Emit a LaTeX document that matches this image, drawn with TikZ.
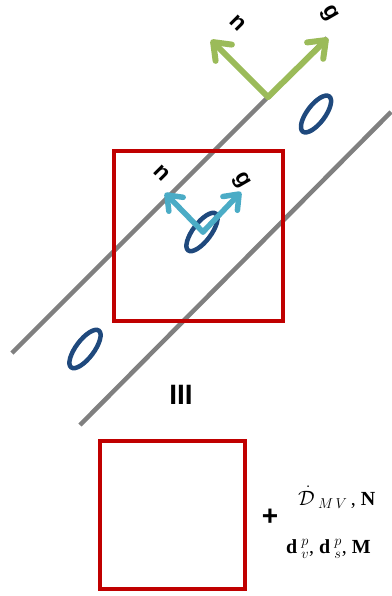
\documentclass[tikz,border=0pt]{standalone}
\usepackage{fontspec}
\setmainfont{Liberation Serif}
\setsansfont{Liberation Sans}
\usetikzlibrary{arrows.meta}
\definecolor{lgray}{RGB}{128,128,128}
\definecolor{boxred}{RGB}{192,0,0}
\definecolor{vgreen}{RGB}{155,187,89}
\definecolor{vblue}{RGB}{75,172,198}
\definecolor{ellblue}{RGB}{31,73,125}
\tikzset{
  track/.style={draw=lgray, line width=4.5pt},
  redbox/.style={draw=boxred, line width=4.5pt},
  garrow/.style={draw=vgreen, line width=6pt, line cap=round,
    -{Straight Barb[length=15pt,width=23pt,line cap=round,line join=round]}},
  barrow/.style={draw=vblue, line width=5.5pt, line cap=round,
    -{Straight Barb[length=13pt,width=20pt,line cap=round,line join=round]}},
  loop/.style={draw=ellblue, line width=4.5pt},
  vlab/.style={font=\sffamily\bfseries\fontsize{23}{23}\selectfont, inner sep=0pt}
}
\begin{document}
\begin{tikzpicture}[x=1pt,y=-1pt]
\useasboundingbox (0,0) rectangle (391,596);
% tracks
\coordinate (l1a) at (12,353);
\coordinate (l1b) at (327,38);
\coordinate (l2a) at (80,425);
\coordinate (l2b) at (391,112);
\draw[track] (l1a) -- (l1b);
\draw[track] (l2a) -- (l2b);
% ellipses
\draw[loop, rotate around={53:(316,114)}] (316,114) ellipse (22pt and 9pt);
\draw[loop, rotate around={53:(202,232)}] (202,232) ellipse (23pt and 9pt);
\draw[loop, rotate around={53:(85,349)}] (85,349) ellipse (23pt and 9pt);
% red boxes
\node[redbox, minimum width=169pt, minimum height=170pt, inner sep=0pt] (box1) at (198.5,236) {};
\node[redbox, minimum width=145pt, minimum height=148pt, inner sep=0pt] (box2) at (172.5,515) {};
% green vectors
\coordinate (go) at (268,97);
\coordinate (gn) at (211,40);
\coordinate (gg) at (328,38);
\draw[garrow] (go) -- (gn);
\draw[garrow] (go) -- (gg);
\node[vlab, rotate=-45] (gnl) at (238,23) {n};
\node[vlab, rotate=-60] (ggl) at (329,14) {g};
% blue vectors
\coordinate (bo) at (203,232);
\coordinate (bn) at (165,193);
\coordinate (bg) at (241,192);
\draw[barrow] (bo) -- (bn);
\draw[barrow] (bo) -- (bg);
\node[vlab, rotate=-45] (bnl) at (162,173) {n};
\node[vlab, rotate=-60] (bgl) at (241,181) {g};
% labels
\node[font=\sffamily\bfseries\fontsize{28}{28}\selectfont, inner sep=0pt] (iii) at (181,395) {III};
\node[font=\sffamily\bfseries\fontsize{28}{28}\selectfont, inner sep=0pt] (plus) at (270,517) {+};
\node[anchor=base west, inner sep=0pt, font=\fontsize{20}{20}\selectfont] (t1) at (298,505) {$\dot{\mathcal{D}}_{\;M\,V}$\,, \textbf{N}};
\node[anchor=base west, inner sep=0pt, font=\fontsize{20}{20}\selectfont] (t2) at (286,553) {$\mathbf{d}_{\;v}^{\;p}$, $\mathbf{d}_{\;s}^{\;p}$, \textbf{M}};
\end{tikzpicture}
\end{document}
